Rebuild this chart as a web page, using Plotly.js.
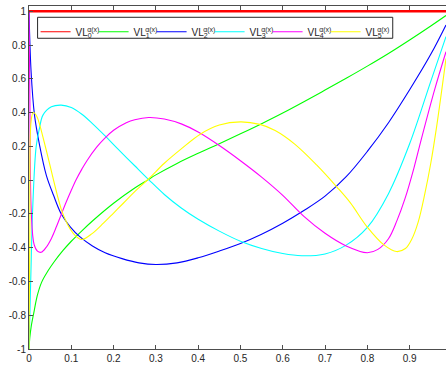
<!DOCTYPE html>
<html>
<head>
<meta charset="utf-8">
<script src="https://cdn.plot.ly/plotly-3.0.1.min.js"></script>
<style>
html,body{margin:0;padding:0;background:#fff;}
#chart{width:446px;height:366px;}
</style>
</head>
<body>
<div id="chart"></div>
<script>
// ---- data ----
const seriesIndex = ["0", "1", "2", "3", "4", "5"];

const vl0X = [0, 0.25, 0.5, 0.75, 0.986];
const vl0Y = [1, 1, 1, 1, 1];

const vl1X = [0, 0.002, 0.005, 0.011, 0.02, 0.03, 0.045, 0.06, 0.08, 0.10, 0.125, 0.15, 0.20, 0.25, 0.28, 0.30, 0.35, 0.40, 0.45, 0.50, 0.55, 0.60, 0.65, 0.70, 0.75, 0.80, 0.85, 0.90, 0.95, 0.986];
const vl1Y = [-1, -0.93, -0.87, -0.79, -0.68, -0.604, -0.537, -0.482, -0.418, -0.362, -0.30, -0.242, -0.137, -0.047, 0, 0.031, 0.099, 0.159, 0.216, 0.274, 0.334, 0.397, 0.464, 0.533, 0.603, 0.675, 0.75, 0.83, 0.913, 0.975];

const vl2X = [0, 0.005, 0.013, 0.025, 0.041, 0.058, 0.076, 0.098, 0.12, 0.15, 0.18, 0.22, 0.26, 0.30, 0.35, 0.40, 0.45, 0.50, 0.55, 0.60, 0.65, 0.70, 0.75, 0.80, 0.85, 0.90, 0.95, 0.986];
const vl2Y = [1, 0.64, 0.385, 0.207, 0.028, -0.09, -0.199, -0.278, -0.335, -0.39, -0.43, -0.465, -0.49, -0.50, -0.49, -0.46, -0.42, -0.375, -0.32, -0.255, -0.18, -0.095, 0.02, 0.17, 0.34, 0.535, 0.745, 0.919];

const vl3X = [0, 0.004, 0.009, 0.017, 0.025, 0.033, 0.053, 0.076, 0.10, 0.125, 0.15, 0.18, 0.21, 0.25, 0.283, 0.32, 0.36, 0.40, 0.45, 0.50, 0.55, 0.60, 0.645, 0.70, 0.75, 0.80, 0.85, 0.90, 0.95, 0.986];
const vl3Y = [-1, -0.6, -0.15, 0.2, 0.31, 0.385, 0.434, 0.444, 0.43, 0.39, 0.335, 0.262, 0.185, 0.085, 0.003, -0.085, -0.165, -0.232, -0.302, -0.362, -0.405, -0.435, -0.448, -0.437, -0.385, -0.28, -0.08, 0.215, 0.585, 0.85];

const vl4X = [0, 0.002, 0.0054, 0.012, 0.02, 0.029, 0.04, 0.053, 0.065, 0.076, 0.088, 0.10, 0.112, 0.125, 0.137, 0.16, 0.18, 0.20, 0.23, 0.25, 0.283, 0.32, 0.36, 0.40, 0.45, 0.50, 0.55, 0.60, 0.65, 0.70, 0.75, 0.80, 0.825, 0.85, 0.87, 0.889, 0.91, 0.928, 0.96, 0.986];
const vl4Y = [1, 0.5, -0.19, -0.38, -0.42, -0.427, -0.40, -0.345, -0.275, -0.205, -0.13, -0.06, 0.005, 0.065, 0.115, 0.195, 0.25, 0.295, 0.34, 0.358, 0.371, 0.362, 0.333, 0.285, 0.205, 0.115, 0.018, -0.09, -0.215, -0.315, -0.39, -0.43, -0.41, -0.347, -0.24, -0.11, 0.07, 0.246, 0.543, 0.76];

const vl5X = [0, 0.002, 0.005, 0.01, 0.018, 0.025, 0.033, 0.045, 0.057, 0.067, 0.076, 0.087, 0.0976, 0.11, 0.125, 0.15, 0.176, 0.20, 0.223, 0.25, 0.283, 0.32, 0.36, 0.405, 0.45, 0.50, 0.546, 0.582, 0.629, 0.68, 0.728, 0.76, 0.799, 0.84, 0.869, 0.89, 0.905, 0.92, 0.936, 0.95, 0.964, 0.986];
const vl5Y = [-1, -0.3, 0.35, 0.40, 0.38, 0.33, 0.255, 0.135, 0.01, -0.09, -0.17, -0.24, -0.29, -0.33, -0.352, -0.315, -0.255, -0.195, -0.137, -0.068, 0.008, 0.1, 0.185, 0.272, 0.326, 0.345, 0.33, 0.294, 0.212, 0.09, -0.041, -0.135, -0.275, -0.385, -0.423, -0.405, -0.35, -0.25, -0.08, 0.1, 0.32, 0.72];

const xTickVals = [0, 0.1, 0.2, 0.3, 0.4, 0.5, 0.6, 0.7, 0.8, 0.9];
const xTickText = ["0", "0.1", "0.2", "0.3", "0.4", "0.5", "0.6", "0.7", "0.8", "0.9"];
const yTickVals = [-1, -0.8, -0.6, -0.4, -0.2, 0, 0.2, 0.4, 0.6, 0.8, 1];
const yTickText = ["-1", "-0.8", "-0.6", "-0.4", "-0.2", "0", "0.2", "0.4", "0.6", "0.8", "1"];

const colors = ["#ff0000", "#00ff00", "#0000ff", "#00ffff", "#ff00ff", "#ffff00"];
// ----------------------------------------------

const xs = [vl0X, vl1X, vl2X, vl3X, vl4X, vl5X];
const ys = [vl0Y, vl1Y, vl2Y, vl3Y, vl4Y, vl5Y];

function legendName(n) {
  return "VL<sub><span style='letter-spacing:-4.5px'>" + n + "</span></sub><sup>α(x)</sup>";
}

const traces = [];
for (let i = 0; i < 6; i++) {
  traces.push({
    x: xs[i], y: ys[i], type: 'scatter', mode: 'lines',
    name: legendName(seriesIndex[i]),
    legendwidth: i === 5 ? 20 : 13,
    line: {color: colors[i], width: 1.1, shape: i === 0 ? 'linear' : 'spline', smoothing: 1},
    showlegend: true, hoverinfo: 'skip'
  });
}
// thick red line for VL0 (legend keeps a thin sample)
traces.push({
  x: vl0X, y: vl0Y, type: 'scatter', mode: 'lines',
  line: {color: colors[0], width: 2.6}, showlegend: false, hoverinfo: 'skip'
});

const axisColor = '#4d4d4d';
const fontFam = 'Liberation Sans, Arial, sans-serif';

const layout = {
  width: 446, height: 366,
  margin: {l: 28.7, r: 0, t: 6, b: 16.7, pad: 0},
  paper_bgcolor: '#ffffff', plot_bgcolor: '#ffffff',
  font: {family: fontFam, size: 10, color: '#262626'},
  xaxis: {
    range: [0, 0.986], tickmode: 'array', tickvals: xTickVals, ticktext: xTickText,
    ticks: 'inside', ticklen: 4, tickwidth: 1, tickcolor: axisColor,
    showline: true, linecolor: axisColor, linewidth: 1, mirror: 'ticks',
    showgrid: false, zeroline: false,
    tickfont: {family: fontFam, size: 10, color: '#262626'}
  },
  yaxis: {
    range: [-1, 1.031], tickmode: 'array', tickvals: yTickVals, ticktext: yTickText,
    ticks: 'inside', ticklen: 4, tickwidth: 1, tickcolor: axisColor,
    showline: true, linecolor: axisColor, linewidth: 1, mirror: false,
    showgrid: false, zeroline: false,
    tickfont: {family: fontFam, size: 10, color: '#262626'}
  },
  legend: {
    orientation: 'h', x: 0.0158, y: 0.967, xanchor: 'left', yanchor: 'top',
    bgcolor: 'rgba(0,0,0,0)', borderwidth: 0,
    font: {family: fontFam, size: 10, color: '#262626'},
    entrywidth: 13, entrywidthmode: 'pixels', tracegroupgap: 0
  },
  shapes: [{
    type: 'rect', xref: 'paper', yref: 'paper',
    x0: 0.0206, x1: 0.8723, y0: 0.9059, y1: 0.9671,
    line: {color: '#262626', width: 1}, fillcolor: '#ffffff', layer: 'below'
  }],
  showlegend: true
};

Plotly.newPlot('chart', traces, layout, {displayModeBar: false, staticPlot: true});
</script>
</body>
</html>
